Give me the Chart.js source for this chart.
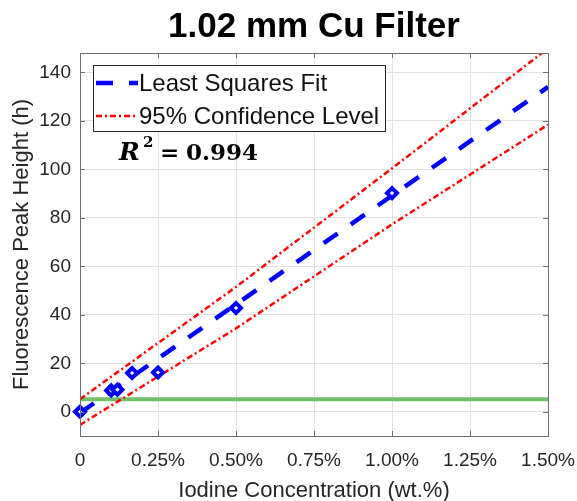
<!DOCTYPE html>
<html>
<head>
<meta charset="utf-8">
<script src="https://cdn.jsdelivr.net/npm/chart.js@4"></script>
<style>
  html, body { margin: 0; padding: 0; background: #fff; overflow: hidden; }
  #wrap { width: 577px; height: 512px; }
</style>
</head>
<body>
<div id="wrap"><canvas id="cuFilterChart"></canvas></div>
<script>
// measured points
const concentration = [0, 0.1, 0.12, 0.167, 0.25, 0.5, 1.0];
const peakHeight = [0, 8.8, 9.1, 16, 16.2, 42.8, 90.2];

// least squares fit and 95% band
const fitX = [0, 1.5];
const fitY = [-0.5, 134];
const bandX = [0, 0.5, 1.0, 1.5];
const upperY = [5.2, 51.5, 100.4, 149.9];
const lowerY = [-5.4, 34.4, 77.3, 118.4];

// detection threshold
const thresholdX = [0, 1.5];
const thresholdY = [5.2, 5.2];

const xTicks = [0, 0.25, 0.5, 0.75, 1.0, 1.25, 1.5];
const yTicks = [0, 20, 40, 60, 80, 100, 120, 140];
const legendLabels = ['Least Squares Fit', '95% Confidence Level'];
const rSquared = '0.994';

const SANS = '"Liberation Sans", Arial, sans-serif';
const SERIF = '"DejaVu Serif", serif';
const pts = (xs, ys) => xs.map((x, i) => ({ x: x, y: ys[i] }));

const frame = {
  id: 'frame',
  afterDatasetsDraw(chart) {
    const { ctx, chartArea: a, scales: { x, y } } = chart;
    ctx.save();
    ctx.strokeStyle = '#6e6e6e';
    ctx.lineWidth = 1;
    ctx.beginPath();
    xTicks.forEach(v => {
      const px = Math.round(x.getPixelForValue(v)) + 0.5;
      ctx.moveTo(px, a.bottom); ctx.lineTo(px, a.bottom - 5);
      ctx.moveTo(px, a.top); ctx.lineTo(px, a.top + 5);
    });
    yTicks.forEach(v => {
      const py = Math.round(y.getPixelForValue(v)) + 0.5;
      ctx.moveTo(a.left, py); ctx.lineTo(a.left + 5, py);
      ctx.moveTo(a.right, py); ctx.lineTo(a.right - 5, py);
    });
    ctx.stroke();
    ctx.strokeRect(Math.round(a.left) + 0.5, Math.round(a.top) + 0.5,
      Math.round(a.right - a.left), Math.round(a.bottom - a.top));
    ctx.restore();
  },
  afterDraw(chart) {
    const { ctx, chartArea: a } = chart;
    ctx.save();
    // title
    ctx.fillStyle = '#000';
    ctx.font = 'bold 35px ' + SANS;
    ctx.textAlign = 'center';
    ctx.textBaseline = 'alphabetic';
    ctx.fillText('1.02 mm Cu Filter', (a.left + a.right) / 2, 37);

    // legend box
    ctx.fillStyle = '#fff';
    ctx.fillRect(93, 65, 293, 66);
    ctx.strokeStyle = '#262626';
    ctx.lineWidth = 1;
    ctx.strokeRect(93.5, 65.5, 292, 66);
    const rows = [
      { ds: chart.data.datasets[1], y: 83 },
      { ds: chart.data.datasets[2], y: 116 }
    ];
    rows.forEach((r, i) => {
      ctx.beginPath();
      ctx.strokeStyle = r.ds.borderColor;
      ctx.lineWidth = r.ds.borderWidth;
      ctx.setLineDash(r.ds.borderDash);
      ctx.moveTo(96, r.y);
      ctx.lineTo(138, r.y);
      ctx.stroke();
      ctx.setLineDash([]);
      ctx.fillStyle = '#111';
      ctx.font = '24px ' + SANS;
      ctx.textAlign = 'left';
      ctx.textBaseline = 'middle';
      ctx.fillText(legendLabels[i], 139, r.y + 1);
    });

    // R^2 annotation
    ctx.fillStyle = '#000';
    ctx.textBaseline = 'alphabetic';
    ctx.font = 'italic bold 25px ' + SERIF;
    ctx.fillText('R', 119, 160);
    ctx.font = 'bold 15px ' + SERIF;
    ctx.fillText('2', 143, 147);
    ctx.font = 'bold 23px ' + SERIF;
    ctx.fillText('=', 160, 160);
    ctx.fillText(rSquared, 186, 160);
    ctx.restore();
  }
};

const ctx = document.getElementById('cuFilterChart').getContext('2d');
new Chart(ctx, {
  type: 'scatter',
  data: {
    datasets: [
      {
        label: 'Data',
        data: pts(concentration, peakHeight),
        showLine: false,
        pointStyle: 'rectRot',
        pointRadius: 5,
        pointBorderWidth: 4,
        pointBorderColor: '#0000ff',
        pointBackgroundColor: '#ffffff',
        clip: false
      },
      {
        label: legendLabels[0],
        data: pts(fitX, fitY),
        showLine: true,
        borderColor: '#0000ff',
        borderWidth: 4.5,
        borderDash: [17, 16],
        pointRadius: 0,
        clip: 0
      },
      {
        label: legendLabels[1],
        data: pts(bandX, upperY),
        showLine: true,
        borderColor: '#ff0000',
        borderWidth: 2.5,
        borderDash: [6, 3, 2, 3],
        pointRadius: 0,
        clip: 0
      },
      {
        label: 'lower',
        data: pts(bandX, lowerY),
        showLine: true,
        borderColor: '#ff0000',
        borderWidth: 2.5,
        borderDash: [6, 3, 2, 3],
        pointRadius: 0,
        clip: 0
      },
      {
        label: 'threshold',
        data: pts(thresholdX, thresholdY),
        showLine: true,
        borderColor: '#72bf6a',
        borderWidth: 4,
        pointRadius: 0,
        clip: 0
      }
    ]
  },
  options: {
    responsive: true,
    maintainAspectRatio: false,
    animation: false,
    layout: { padding: { top: 53, right: 29, left: 0, bottom: 0 } },
    plugins: {
      legend: { display: false },
      tooltip: { enabled: false },
      title: { display: false }
    },
    scales: {
      x: {
        type: 'linear',
        min: 0,
        max: 1.5,
        afterBuildTicks: s => { s.ticks = xTicks.map(v => ({ value: v })); },
        afterFit: s => { s.height = 512 - 436; s.paddingLeft = 0; s.paddingRight = 0; },
        grid: { color: '#e2e2e2', drawTicks: false },
        border: { display: false },
        ticks: {
          padding: 13,
          color: '#262626',
          maxRotation: 0,
          autoSkip: false,
          font: { family: SANS, size: 19 },
          callback: v => v === 0 ? '0' : v.toFixed(2) + '%'
        },
        title: {
          display: true,
          text: 'Iodine Concentration (wt.%)',
          color: '#262626',
          font: { family: SANS, size: 22 },
          padding: { top: 0, bottom: 8 }
        }
      },
      y: {
        min: -10,
        max: 148,
        afterBuildTicks: s => { s.ticks = yTicks.map(v => ({ value: v })); },
        afterFit: s => { s.width = 80; s.paddingTop = 0; s.paddingBottom = 0; },
        grid: { color: '#e2e2e2', drawTicks: false },
        border: { display: false },
        ticks: {
          padding: 9,
          color: '#262626',
          font: { family: SANS, size: 19 }
        },
        title: {
          display: true,
          text: 'Fluorescence Peak Height (h)',
          color: '#262626',
          font: { family: SANS, size: 22 },
          padding: { top: 9, bottom: 0 }
        }
      }
    }
  },
  plugins: [frame]
});
</script>
</body>
</html>
